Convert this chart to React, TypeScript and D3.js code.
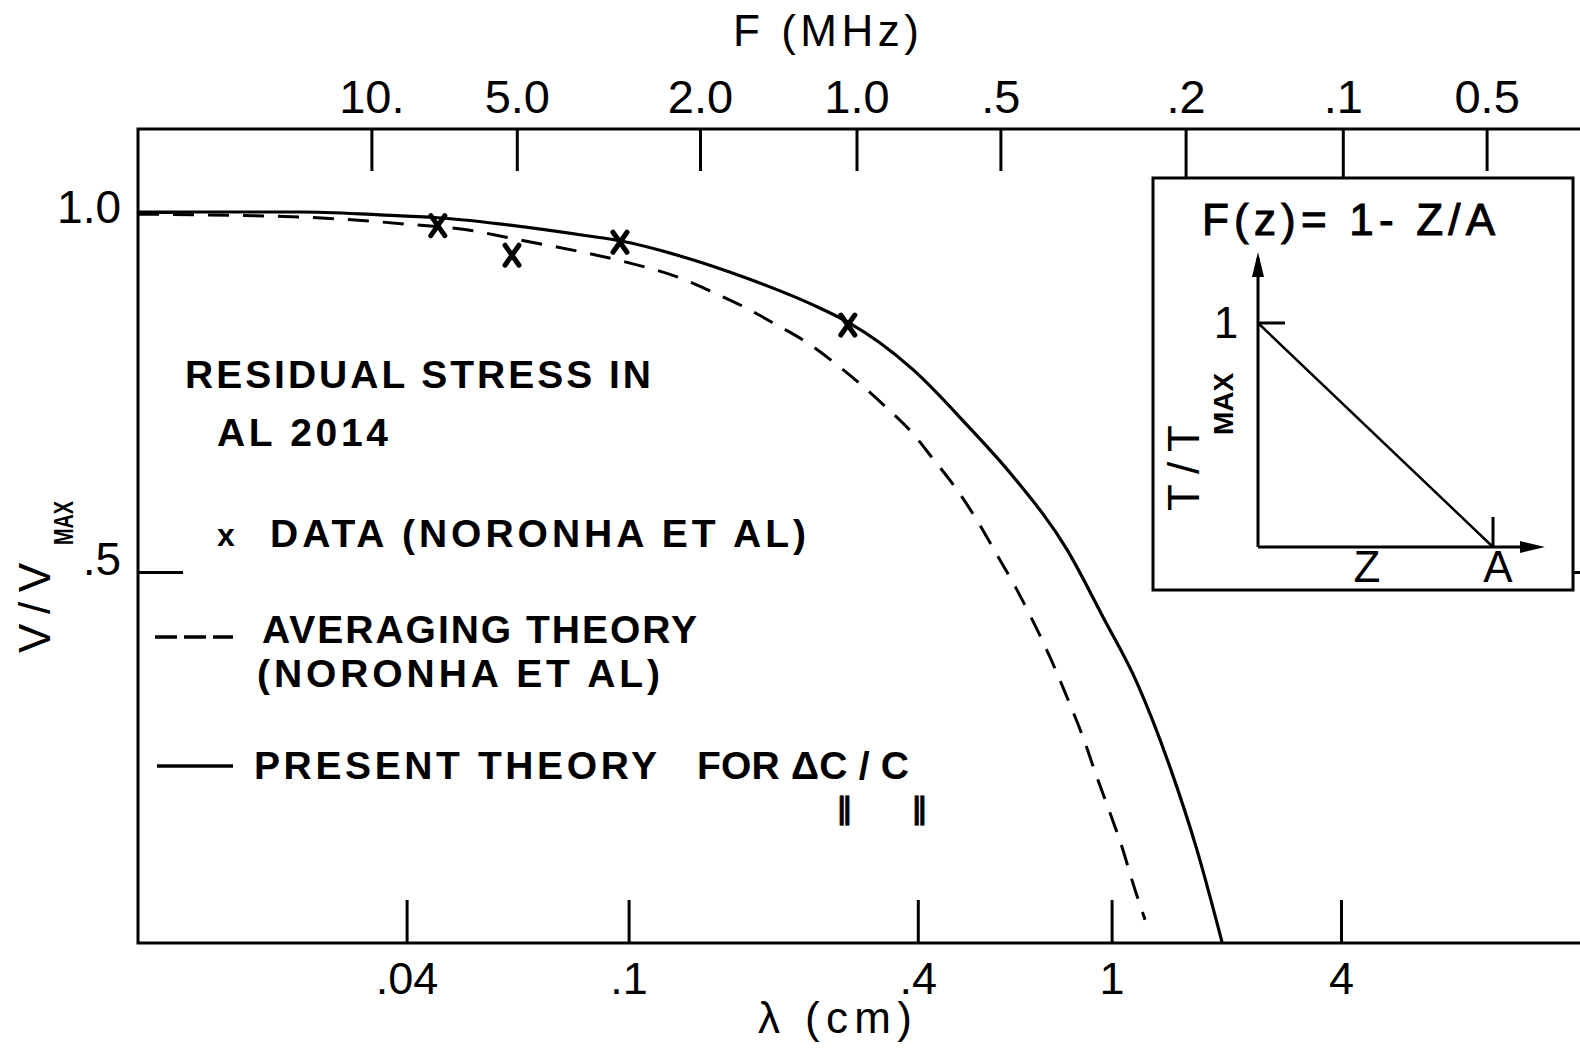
import React, { useEffect, useRef } from 'react';
import * as d3 from 'd3';

// bottom axis: wavelength (cm)
const lambdaTicks = [0.04, 0.1, 0.4, 1, 4];
const lambdaTickLabels = ['.04', '.1', '.4', '1', '4'];

// top axis: frequency (MHz), labels as printed
const freqTicks = [10, 5, 2, 1, 0.5, 0.2, 0.1, 0.05];
const freqTickLabels = ['10.', '5.0', '2.0', '1.0', '.5', '.2', '.1', '0.5'];

// left axis
const vTicks = [0.5, 1.0];
const vTickLabels = ['.5', '1.0'];

// present theory (solid)
const presentLambda = [0.0132, 0.0258, 0.0358, 0.0455, 0.0842, 0.0965, 0.128, 0.1764, 0.242, 0.286, 0.334, 0.391, 0.505, 0.627, 0.81, 0.96, 1.166, 1.423, 1.675, 1.949];
const presentV = [1.0, 1.0, 0.996, 0.992, 0.967, 0.96, 0.939, 0.908, 0.871, 0.847, 0.818, 0.781, 0.704, 0.633, 0.531, 0.4375, 0.346, 0.229, 0.114, -0.014];

// averaging theory (dashed)
const averagingLambda = [0.0132, 0.0258, 0.0416, 0.0516, 0.0603, 0.0714, 0.0842, 0.1021, 0.1249, 0.1492, 0.173, 0.1998, 0.236, 0.282, 0.3434, 0.391, 0.43, 0.477, 0.529, 0.5815, 0.636, 0.68, 0.747, 0.81, 0.873, 0.933, 0.993, 1.071, 1.131, 1.224];
const averagingV = [0.997, 0.993, 0.982, 0.975, 0.965, 0.954, 0.943, 0.928, 0.911, 0.889, 0.869, 0.846, 0.818, 0.779, 0.729, 0.692, 0.657, 0.618, 0.572, 0.524, 0.478, 0.44, 0.382, 0.326, 0.271, 0.215, 0.165, 0.114, 0.072, 0.017];

// measured points (Noronha et al)
const dataLambda = [0.0455, 0.0618, 0.0965, 0.286];
const dataV = [0.981, 0.94, 0.958, 0.843];

// inset: F(z) = 1 - Z/A
const insetZ = [0, 1];
const insetT = [1, 0];

const FONT = "'Liberation Sans', Arial, sans-serif";

const App = () => {
  const ref = useRef<SVGSVGElement>(null);

  useEffect(() => {
    const svg = d3.select(ref.current);
    svg.selectAll('*').remove();

    const left = 138, top = 129, right = 1584, bottom = 943;

    // the printed axes are hand ruled, so tick spacing is uneven -> piecewise log scales
    const x = d3.scaleLog().domain(lambdaTicks).range([406.6, 628.6, 917.8, 1111.6, 1341]);
    const fx = d3.scaleLog().domain(freqTicks).range([371.4, 516.8, 700, 856.5, 1000.4, 1185.6, 1342.8, 1486.6]);
    const y = d3.scaleLinear().domain([0.5, 1]).range([572, 212]);

    // frame
    svg.append('path')
      .attr('d', `M${left},${top}H${right}V${bottom}H${left}Z`)
      .attr('fill', 'none')
      .attr('stroke', '#000')
      .attr('stroke-width', 3);

    // bottom axis
    const gB = svg.append('g')
      .attr('transform', `translate(0,${bottom})`)
      .call(d3.axisBottom(x).tickValues(lambdaTicks)
        .tickFormat((d, i) => lambdaTickLabels[i])
        .tickSizeInner(-43).tickSizeOuter(0).tickPadding(19));
    gB.select('.domain').remove();
    gB.selectAll('line').attr('stroke-width', 3);
    gB.selectAll('text').attr('font-size', 45).attr('font-family', FONT).attr('fill', '#000');

    // top axis
    const gT = svg.append('g')
      .attr('transform', `translate(0,${top})`)
      .call(d3.axisTop(fx).tickValues(freqTicks)
        .tickFormat((d, i) => freqTickLabels[i])
        .tickSizeInner(-42).tickSizeOuter(0).tickPadding(16));
    gT.select('.domain').remove();
    gT.selectAll('line').attr('stroke-width', 3);
    gT.selectAll('.tick').filter(d => d === 0.2 || d === 0.1).select('line').attr('y2', 49);
    gT.selectAll('text').attr('font-size', 47).attr('font-family', FONT).attr('fill', '#000');

    // left axis
    const gL = svg.append('g')
      .attr('transform', `translate(${left},0)`)
      .call(d3.axisLeft(y).tickValues(vTicks)
        .tickFormat((d, i) => vTickLabels[i])
        .tickSizeInner(-45).tickSizeOuter(0).tickPadding(17));
    gL.select('.domain').remove();
    gL.selectAll('line').attr('stroke-width', 3);
    gL.selectAll('text').attr('font-size', 46).attr('font-family', FONT).attr('fill', '#000')
      .attr('dy', d => (d === 1 ? '0.22em' : '0.05em'));

    // right axis tick (frame itself falls just outside the page)
    const gR = svg.append('g')
      .attr('transform', `translate(${right},0)`)
      .call(d3.axisRight(y).tickValues([0.5]).tickFormat(() => '').tickSizeInner(-14).tickSizeOuter(0));
    gR.select('.domain').remove();
    gR.selectAll('line').attr('stroke-width', 3);

    // axis titles
    svg.append('text')
      .attr('x', 733).attr('y', 46)
      .attr('textLength', 186).attr('lengthAdjust', 'spacing')
      .attr('font-size', 44).attr('font-family', FONT)
      .text('F (MHz)');

    svg.append('text')
      .attr('x', 758).attr('y', 1033)
      .attr('textLength', 154).attr('lengthAdjust', 'spacing')
      .attr('font-size', 44).attr('font-family', FONT)
      .text('λ (cm)');

    svg.append('text')
      .attr('transform', 'translate(50,608) rotate(-90)')
      .attr('text-anchor', 'middle')
      .attr('textLength', 90).attr('lengthAdjust', 'spacing')
      .attr('font-size', 44).attr('font-family', FONT)
      .text('V/V');
    svg.append('text')
      .attr('transform', 'translate(73,523) rotate(-90)')
      .attr('text-anchor', 'middle')
      .attr('textLength', 44).attr('lengthAdjust', 'spacingAndGlyphs')
      .attr('font-size', 27).attr('font-weight', 'bold').attr('font-family', FONT)
      .text('MAX');

    // curves
    const line = d3.line<[number, number]>()
      .x(d => x(d[0]))
      .y(d => y(d[1]))
      .curve(d3.curveMonotoneX);

    svg.append('path')
      .datum(averagingLambda.map((l, i) => [l, averagingV[i]] as [number, number]))
      .attr('d', line)
      .attr('fill', 'none')
      .attr('stroke', '#000')
      .attr('stroke-width', 3)
      .attr('stroke-dasharray', '21 14');

    svg.append('path')
      .datum(presentLambda.map((l, i) => [l, presentV[i]] as [number, number]))
      .attr('d', line)
      .attr('fill', 'none')
      .attr('stroke', '#000')
      .attr('stroke-width', 3.2);

    // data crosses
    svg.append('g').selectAll('path')
      .data(dataLambda.map((l, i) => [l, dataV[i]]))
      .enter()
      .append('path')
      .attr('transform', d => `translate(${x(d[0])},${y(d[1])})`)
      .attr('d', 'M-7,-10L7,10M7,-10L-7,10')
      .attr('stroke', '#000')
      .attr('stroke-width', 5)
      .attr('stroke-linecap', 'round');

    // legend / annotation
    const label = (tx: number, ty: number, len: number, s: string, size = 39) =>
      svg.append('text')
        .attr('x', tx).attr('y', ty)
        .attr('textLength', len).attr('lengthAdjust', 'spacing')
        .attr('font-size', size).attr('font-weight', 'bold').attr('font-family', FONT)
        .text(s);

    label(185, 388, 466, 'RESIDUAL STRESS IN');
    label(217, 446, 171, 'AL 2014');
    svg.append('text')
      .attr('x', 217).attr('y', 546)
      .attr('font-size', 32).attr('font-weight', 'bold').attr('font-family', FONT)
      .text('x');
    label(270, 547, 536, 'DATA (NORONHA ET AL)');
    label(262, 643, 435, 'AVERAGING THEORY');
    label(257, 687, 403, '(NORONHA ET AL)');
    label(254, 779, 403, 'PRESENT THEORY');
    label(697, 779, 212, 'FOR ΔC / C');
    // parallel subscripts under the two C's
    [844, 919].forEach(sx => {
      svg.append('text')
        .attr('x', sx).attr('y', 819).attr('text-anchor', 'middle')
        .attr('font-size', 30).attr('font-weight', 'bold')
        .attr('font-family', "'DejaVu Sans', sans-serif")
        .attr('stroke', '#000').attr('stroke-width', 0.6)
        .text('∥');
    });

    svg.append('line')
      .attr('x1', 155).attr('x2', 233).attr('y1', 637).attr('y2', 637)
      .attr('stroke', '#000').attr('stroke-width', 3.5)
      .attr('stroke-dasharray', '22 7');
    svg.append('line')
      .attr('x1', 157).attr('x2', 233).attr('y1', 766).attr('y2', 766)
      .attr('stroke', '#000').attr('stroke-width', 3.5);

    // inset
    const inset = svg.append('g');
    inset.append('rect')
      .attr('x', 1153).attr('y', 178).attr('width', 420).attr('height', 412)
      .attr('fill', '#fff').attr('stroke', '#000').attr('stroke-width', 3);

    const iz = d3.scaleLinear().domain([0, 1]).range([1258, 1493]);
    const it = d3.scaleLinear().domain([0, 1]).range([547, 323]);

    inset.append('path')
      .attr('d', `M${iz(0)},${it(0)}V258M${iz(0)},${it(0)}H1538M${iz(0)},${it(1)}H1285M${iz(1)},${it(0)}V517`)
      .attr('fill', 'none').attr('stroke', '#000').attr('stroke-width', 3);
    inset.append('path')
      .attr('d', `M${iz(0)},252L${iz(0) - 6},277L${iz(0) + 6},277Z M1545,${it(0)}L1520,${it(0) - 6}L1520,${it(0) + 6}Z`)
      .attr('fill', '#000');
    inset.append('path')
      .datum(insetZ.map((z, i) => [z, insetT[i]]))
      .attr('d', d3.line<number[]>().x(d => iz(d[0])).y(d => it(d[1])))
      .attr('fill', 'none').attr('stroke', '#000').attr('stroke-width', 2.5);

    inset.append('text')
      .attr('x', 1202).attr('y', 235)
      .attr('textLength', 293).attr('lengthAdjust', 'spacing')
      .attr('font-size', 44).attr('font-family', FONT)
      .attr('stroke', '#000').attr('stroke-width', 1)
      .text('F(z)= 1- Z/A');
    inset.append('text')
      .attr('x', 1226).attr('y', it(1) + 15).attr('text-anchor', 'middle')
      .attr('font-size', 44).attr('font-family', FONT)
      .text('1');
    inset.append('text')
      .attr('x', 1367).attr('y', 582).attr('text-anchor', 'middle')
      .attr('font-size', 44).attr('font-family', FONT)
      .text('Z');
    inset.append('text')
      .attr('x', 1498).attr('y', 582).attr('text-anchor', 'middle')
      .attr('font-size', 44).attr('font-family', FONT)
      .text('A');
    inset.append('text')
      .attr('transform', 'translate(1199,468) rotate(-90)')
      .attr('text-anchor', 'middle')
      .attr('textLength', 86).attr('lengthAdjust', 'spacing')
      .attr('font-size', 44).attr('font-family', FONT)
      .text('T/T');
    inset.append('text')
      .attr('transform', 'translate(1233,404) rotate(-90)')
      .attr('text-anchor', 'middle')
      .attr('font-size', 28).attr('font-weight', 'bold').attr('font-family', FONT)
      .text('MAX');
  }, []);

  return (
    <svg ref={ref} width={1580} height={1050}
      style={{ position: 'absolute', left: 0, top: 0, background: '#fff' }} />
  );
};

export default App;
